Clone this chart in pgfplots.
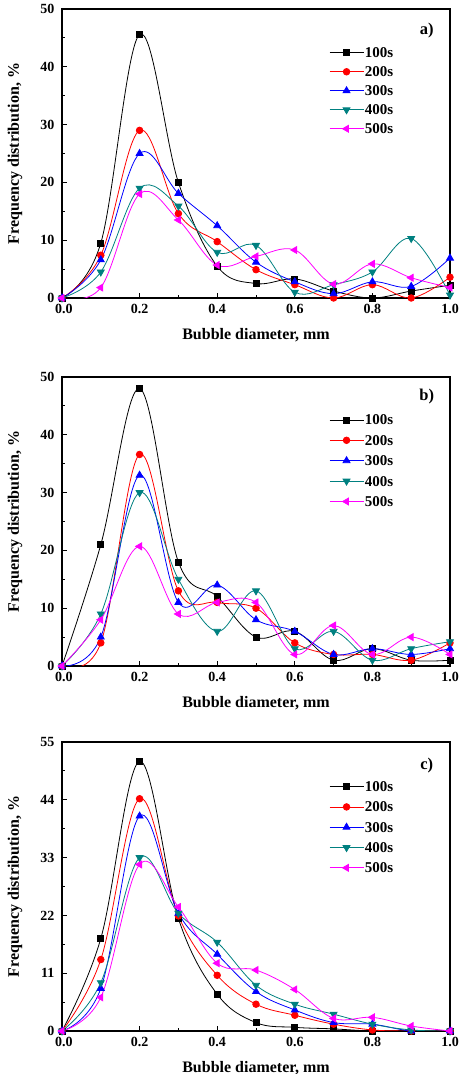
\documentclass[border=0pt]{standalone}
\usepackage{fontspec}
\setmainfont{Liberation Serif}
\usepackage{pgfplots}
\pgfplotsset{compat=1.18}

% series colours
\definecolor{cA}{RGB}{0,0,0}
\definecolor{cB}{RGB}{255,0,0}
\definecolor{cC}{RGB}{0,0,255}
\definecolor{cD}{RGB}{0,128,128}
\definecolor{cE}{RGB}{255,0,255}

\tikzset{panel/.style={font=\fontsize{16.5}{18}\selectfont\bfseries}}

\pgfplotsset{
  bubble/.style={
    scale only axis,
    width=388pt, height=289pt,
    xmin=0, xmax=1,
    ymin=0,
    xtick={0.2,0.4,0.6,0.8,1.0},
    extra x ticks={0},
    extra x tick labels={0.0},
    extra x tick style={tick label style={xshift=2pt}},
    minor x tick num=1,
    minor y tick num=1,
    tick align=inside,
    xtick pos=bottom, ytick pos=left,
    major tick length=5pt, minor tick length=3pt,
    every tick/.style={black, line width=0.9pt},
    axis line style={line width=1.3pt},
    x tick label style={yshift=-4.5pt, inner ysep=1pt, /pgf/number format/.cd, fixed, fixed zerofill, precision=1, assume math mode=true},
    y tick label style={inner ysep=0pt, inner xsep=7.5pt, /pgf/number format/assume math mode=true},
    tick label style={font=\fontsize{14}{16}\selectfont\bfseries},
    label style={font=\fontsize{16}{18}\selectfont\bfseries},
    xlabel={Bubble diameter, mm},
    ylabel={Frequency distribution, \%},
    xlabel style={at={(axis description cs:0.5,-0.128)}, anchor=center},
    ylabel style={at={(axis description cs:-0.121,0.5)}, anchor=center},
    legend cell align=left,
    legend style={draw=none, fill=none, font=\fontsize{15}{17}\selectfont\bfseries,
      inner sep=0pt,
      nodes={inner sep=1pt, text height=10pt, text depth=0pt}},
    legend image code/.code={%
      \draw[mark repeat=2,mark phase=2,#1] plot coordinates {(0pt,0pt) (17pt,0pt) (34pt,0pt)};},
    clip=true,
  },
  sA/.style={cA, line width=0.8pt, smooth, tension=0.6, mark=square*, mark size=3pt, mark options={solid}},
  sB/.style={cB, line width=0.8pt, smooth, tension=0.6, mark=*, mark size=3.3pt, mark options={solid}},
  sC/.style={cC, line width=0.8pt, smooth, tension=0.6, mark=triangle*, mark size=4pt, mark options={solid}},
  sD/.style={cD, line width=0.8pt, smooth, tension=0.6, mark=triangle*, mark size=4pt, mark options={solid, rotate=180}},
  sE/.style={cE, line width=0.8pt, smooth, tension=0.6, mark=triangle*, mark size=4pt, mark options={solid, rotate=90}},
}

\begin{document}
\begin{tikzpicture}
\useasboundingbox (0pt,0pt) rectangle (462pt,1074pt);

% ---------------- a) ----------------
\begin{axis}[bubble, at={(62pt,776pt)}, anchor=south west,
  ymax=50, ytick={0,10,20,30,40,50},
  legend style={at={(axis description cs:0.688,0.870)}, anchor=north west, row sep=7pt}]
\addplot[sA] coordinates {(0,0) (0.1,9.5) (0.2,45.6) (0.3,20.0) (0.4,5.5) (0.5,2.5) (0.6,3.3) (0.7,1.2) (0.8,0) (0.9,1.2) (1.0,2.2)};
\addplot[sB] coordinates {(0,0) (0.1,7.4) (0.2,29.0) (0.3,14.6) (0.4,9.75) (0.5,4.9) (0.6,2.3) (0.7,0) (0.8,2.3) (0.9,0) (1.0,3.6)};
\addplot[sC] coordinates {(0,0) (0.1,6.6) (0.2,25.0) (0.3,18.1) (0.4,12.5) (0.5,6.2) (0.6,2.8) (0.7,0.75) (0.8,2.8) (0.9,2.0) (1.0,6.9)};
\addplot[sD] coordinates {(0,0) (0.1,4.5) (0.2,19.0) (0.3,15.9) (0.4,7.9) (0.5,9.1) (0.6,1.0) (0.7,2.3) (0.8,4.5) (0.9,10.3) (1.0,0.5)};
\addplot[sE] coordinates {(0,0) (0.1,1.8) (0.2,18.0) (0.3,13.5) (0.4,5.7) (0.5,7.2) (0.6,8.3) (0.7,2.4) (0.8,5.9) (0.9,3.5) (1.0,1.8)};
\legend{100s,200s,300s,400s,500s}
\node[panel] at (axis description cs:0.94,0.924) {a)};
\end{axis}

% ---------------- b) ----------------
\begin{axis}[bubble, at={(62pt,408pt)}, anchor=south west,
  ymax=50, ytick={0,10,20,30,40,50},
  legend style={at={(axis description cs:0.688,0.873)}, anchor=north west, row sep=8.4pt}]
\addplot[sA] coordinates {(0,0) (0.1,21.0) (0.2,48.0) (0.3,18.0) (0.4,12.0) (0.5,5.0) (0.6,6.0) (0.7,1.0) (0.8,3.0) (0.9,1.0) (1.0,1.0)};
\addplot[sB] coordinates {(0,0) (0.1,4.0) (0.2,36.6) (0.3,13.0) (0.4,11.0) (0.5,10.0) (0.6,4.0) (0.7,2.0) (0.8,2.0) (0.9,1.0) (1.0,4.0)};
\addplot[sC] coordinates {(0,0) (0.1,5.0) (0.2,33.0) (0.3,11.0) (0.4,14.0) (0.5,8.0) (0.6,6.0) (0.7,2.0) (0.8,3.0) (0.9,2.0) (1.0,3.0)};
\addplot[sD] coordinates {(0,0) (0.1,9.0) (0.2,30.0) (0.3,15.0) (0.4,6.0) (0.5,13.0) (0.6,3.0) (0.7,6.0) (0.8,1.0) (0.9,3.0) (1.0,4.2)};
\addplot[sE] coordinates {(0,0) (0.1,8.0) (0.2,20.7) (0.3,9.0) (0.4,11.0) (0.5,11.0) (0.6,2.0) (0.7,7.0) (0.8,2.0) (0.9,5.0) (1.0,2.0)};
\legend{100s,200s,300s,400s,500s}
\node[panel] at (axis description cs:0.94,0.932) {b)};
\end{axis}

% ---------------- c) ----------------
\begin{axis}[bubble, at={(62pt,43pt)}, anchor=south west,
  ymax=55, ytick={0,11,22,33,44,55},
  legend style={at={(axis description cs:0.688,0.867)}, anchor=north west, row sep=8.3pt}]
\addplot[sA] coordinates {(0,0) (0.1,17.6) (0.2,51.3) (0.3,21.4) (0.4,7.0) (0.5,1.6) (0.6,0.7) (0.7,0.4) (0.8,0) (0.9,0) (1.0,0)};
\addplot[sB] coordinates {(0,0) (0.1,13.6) (0.2,44.2) (0.3,21.9) (0.4,10.6) (0.5,5.1) (0.6,3.0) (0.7,1.3) (0.8,0.2) (0.9,0) (1.0,0)};
\addplot[sC] coordinates {(0,0) (0.1,8.1) (0.2,40.9) (0.3,22.4) (0.4,14.6) (0.5,7.5) (0.6,4.0) (0.7,1.6) (0.8,1.3) (0.9,0) (1.0,0)};
\addplot[sD] coordinates {(0,0) (0.1,9.2) (0.2,33.0) (0.3,22.4) (0.4,16.9) (0.5,8.7) (0.6,5.1) (0.7,3.2) (0.8,1.3) (0.9,0.2) (1.0,0)};
\addplot[sE] coordinates {(0,0) (0.1,6.4) (0.2,31.7) (0.3,23.6) (0.4,12.9) (0.5,11.6) (0.6,7.9) (0.7,2.4) (0.8,2.6) (0.9,0.95) (1.0,0)};
\legend{100s,200s,300s,400s,500s}
\node[panel] at (axis description cs:0.94,0.92) {c)};
\end{axis}
\end{tikzpicture}
\end{document}
